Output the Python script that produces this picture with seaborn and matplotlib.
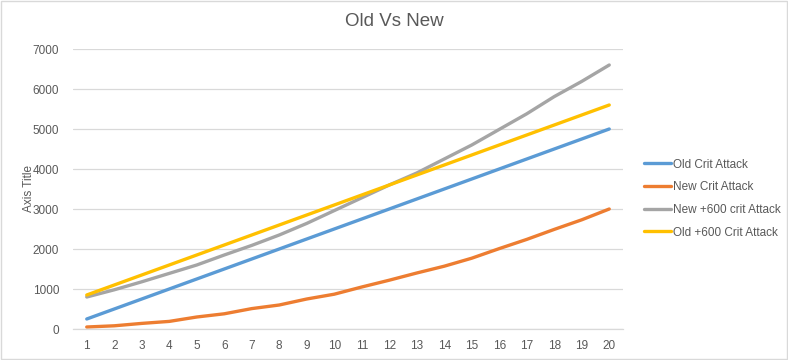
import seaborn as sns
import matplotlib.pyplot as plt
import pandas as pd
from matplotlib.patches import Rectangle

levels = list(range(1, 21))
old_crit = [250, 500, 750, 1000, 1250, 1500, 1750, 2000, 2250, 2500,
            2750, 3000, 3250, 3500, 3750, 4000, 4250, 4500, 4750, 5000]
new_crit = [50, 80, 140, 190, 300, 380, 510, 600, 750, 870,
            1050, 1220, 1400, 1570, 1770, 2010, 2240, 2490, 2730, 3000]
new_plus_600 = [800, 980, 1180, 1390, 1600, 1850, 2090, 2350, 2640, 2960,
                3280, 3600, 3900, 4250, 4600, 4990, 5380, 5810, 6190, 6600]
old_plus_600 = [850, 1100, 1350, 1600, 1850, 2100, 2350, 2600, 2850, 3100,
                3350, 3600, 3850, 4100, 4350, 4600, 4850, 5100, 5350, 5600]

series_names = ["Old Crit Attack", "New Crit Attack", "New +600 crit Attack", "Old +600 Crit Attack"]
colors = ["#5B9BD5", "#ED7D31", "#A5A5A5", "#FFC000"]

df = pd.DataFrame({
    "Level": levels * 4,
    "Value": old_crit + new_crit + new_plus_600 + old_plus_600,
    "Series": sum([[n] * len(levels) for n in series_names], []),
})

sns.set_style("white")
plt.rcParams["font.family"] = ["Liberation Sans", "DejaVu Sans"]
text_color = "#595959"
grid_color = "#D9D9D9"

fig = plt.figure(figsize=(7.88, 3.6), dpi=100)
ax = fig.add_axes([73 / 788, 1 - 329 / 360, 550 / 788, 280 / 360])

sns.lineplot(data=df, x="Level", y="Value", hue="Series", hue_order=series_names,
             palette=colors, linewidth=2.4, ax=ax, legend=False)

ax.set_xlim(0.5, 20.5)
ax.set_ylim(0, 7000)
ax.set_xticks(levels)
ax.set_yticks(range(0, 7001, 1000))
ax.tick_params(axis="both", length=0, labelsize=8.5, colors=text_color)
ax.tick_params(axis="x", pad=8)
ax.tick_params(axis="y", pad=10)
ax.grid(axis="y", color=grid_color, linewidth=0.9)
ax.set_axisbelow(True)
for side in ["top", "right", "left"]:
    ax.spines[side].set_visible(False)
ax.spines["bottom"].set_color(grid_color)
ax.spines["bottom"].set_linewidth(0.9)
ax.set_xlabel("")
ax.set_ylabel("Axis Title", fontsize=8.5, color=text_color)
ax.yaxis.set_label_coords(-38 / 550, 0.5)

fig.text(0.5, 1 - 21 / 360, "Old Vs New", ha="center", va="center",
         fontsize=13.5, color=text_color)

handles = [plt.Line2D([], [], color=c, linewidth=2.4) for c in colors]
fig.legend(handles, series_names, loc="upper left", bbox_to_anchor=(633 / 788, 1 - 148 / 360),
           frameon=False, fontsize=8.5, labelcolor=text_color, handlelength=2.3,
           handletextpad=0.2, labelspacing=0.9)

fig.patches.append(Rectangle((0.001, 0.002), 0.998, 0.996, transform=fig.transFigure,
                             fill=False, edgecolor=grid_color, linewidth=1))

fig.savefig("out.png", dpi=100)
